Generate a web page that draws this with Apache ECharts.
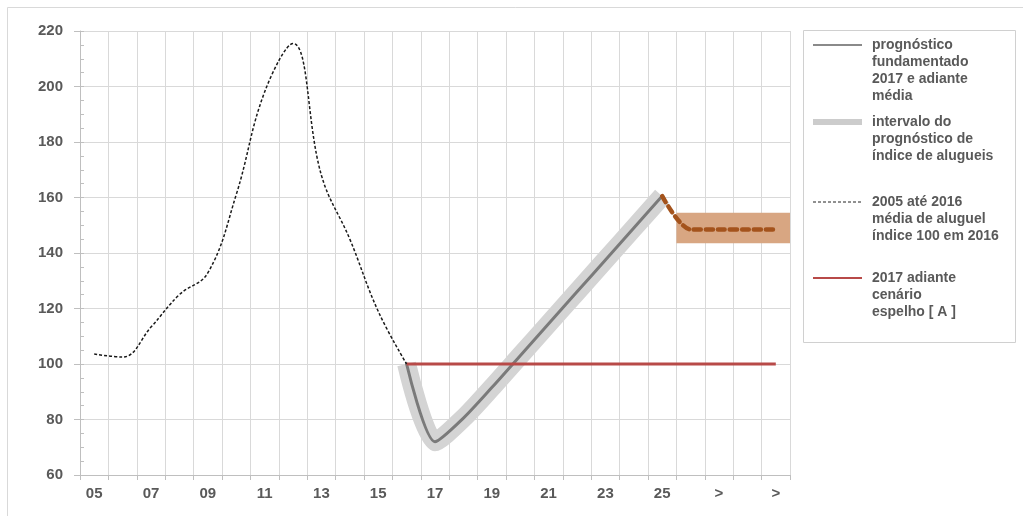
<!DOCTYPE html>
<html>
<head>
<meta charset="utf-8">
<script src="https://cdn.jsdelivr.net/npm/echarts@6/dist/echarts.min.js"></script>
<style>
  html, body { margin: 0; padding: 0; background: #ffffff; }
  #chart { width: 1023px; height: 516px; }
</style>
</head>
<body>
<div id="chart"></div>
<script>
// Years on the horizontal axis and the labels printed under them
const years = ['2005','2006','2007','2008','2009','2010','2011','2012','2013','2014','2015','2016','2017',
               '2018','2019','2020','2021','2022','2023','2024','2025','2026','2027','2028','2029'];
const xTickLabels = ['05','06','07','08','09','10','11','12','13','14','15','16','17',
                     '18','19','20','21','22','23','24','25','>','>','>','>'];
const yTicks = { min: 60, max: 220, step: 20, minorStep: 5 };

// 2005 até 2016 — média de aluguel, índice 100 em 2016
const historyStart = '2005';
const historyValues = [103.6, 102.5, 113.3, 125, 132.8, 161, 198, 215.5, 168, 145, 119, 100];

// prognóstico fundamentado 2017 e adiante (média) — 2016 a 2025
const forecastStart = '2016';
const forecastValues = [100, 72, 80.5, 91.5, 103, 114.5, 126, 137.5, 149, 160.5];

// continuação após 2025 — 2025 a 2029
const outlookStart = '2025';
const outlookValues = [160.5, 148.5, 148.5, 148.5, 148.5];
const outlookRangeYears = ['2026', '2029'];
const outlookRangeValues = [143.5, 154.5];

// 2017 adiante cenário espelho [A] — 2016 a 2029
const mirrorStart = '2016';
const mirrorValues = [100, 100, 100, 100, 100, 100, 100, 100, 100, 100, 100, 100, 100, 100];

// place a run of values on the full year axis
function onYears(start, values) {
  const out = years.map(() => null);
  const s = years.indexOf(start);
  values.forEach((v, i) => { out[s + i] = v; });
  return out;
}

const textColor = '#595959';
const gridColor = '#d9d9d9';
const axisColor = '#bfbfbf';
const font = 'Liberation Sans, Arial, sans-serif';

const chart = echarts.init(document.getElementById('chart'), null, { renderer: 'canvas' });

const legendLeft = 813, legendText = 872, lh = 17;
const legendItems = [
  { y: 45,  text: 'prognóstico\nfundamentado\n2017 e adiante\nmédia', line: { stroke: '#8a8a8a', lineWidth: 2 } },
  { y: 122, text: 'intervalo do\nprognóstico de\níndice de alugueis', line: { stroke: '#cccccc', lineWidth: 6 } },
  { y: 202, text: '2005 até 2016\nmédia de aluguel\níndice 100 em 2016', line: { stroke: '#222222', lineWidth: 1, lineDash: [3, 2] } },
  { y: 278, text: '2017 adiante\ncenário\nespelho [ A ]', line: { stroke: '#b84a48', lineWidth: 2 } }
];
const legendGraphics = [
  { type: 'rect', shape: { x: 803.5, y: 30.5, width: 212, height: 312 },
    style: { fill: '#ffffff', stroke: '#d0d0d0', lineWidth: 1 }, z: 10 }
];
legendItems.forEach(it => {
  legendGraphics.push({ type: 'line', shape: { x1: legendLeft, y1: it.y, x2: legendLeft + 49, y2: it.y },
    style: Object.assign({ fill: null }, it.line), z: 11 });
  legendGraphics.push({ type: 'text', x: legendText, y: it.y - lh / 2, z: 11,
    style: { text: it.text, fill: textColor, fontFamily: font, fontSize: 14, fontWeight: 'bold',
             lineHeight: lh, verticalAlign: 'top', align: 'left' } });
});

const option = {
  animation: false,
  backgroundColor: '#ffffff',
  graphic: [
    { type: 'polyline', shape: { points: [[7.5, 520], [7.5, 7.5], [1030, 7.5]] },
      style: { stroke: '#d9d9d9', lineWidth: 1, fill: null }, z: 0 }
  ].concat(legendGraphics),
  grid: { left: 80, top: 31, right: 233, bottom: 41, containLabel: false },
  xAxis: [
    {
      type: 'category', data: years, boundaryGap: true,
      axisLine: { show: true, lineStyle: { color: axisColor, width: 1 } },
      axisTick: { show: true, interval: 0, length: 5, lineStyle: { color: axisColor } },
      splitLine: { show: true, interval: 0, lineStyle: { color: gridColor, width: 1 } },
      axisLabel: {
        interval: 1, margin: 11, color: textColor, fontFamily: font, fontSize: 15, fontWeight: 'bold',
        formatter: (v, i) => xTickLabels[i]
      }
    },
    { type: 'value', min: 0, max: years.length, show: false }
  ],
  yAxis: [
    {
      type: 'value', min: yTicks.min, max: yTicks.max, interval: yTicks.step,
      axisLine: { show: true, lineStyle: { color: axisColor, width: 1 } },
      axisTick: { show: true, length: 6, lineStyle: { color: axisColor } },
      splitLine: { show: true, lineStyle: { color: gridColor, width: 1 } },
      axisLabel: { margin: 17, color: textColor, fontFamily: font, fontSize: 15, fontWeight: 'bold' }
    },
    {
      type: 'value', position: 'left', min: yTicks.min, max: yTicks.max, interval: yTicks.minorStep,
      axisLine: { show: false },
      axisTick: { show: true, inside: true, length: 4, lineStyle: { color: axisColor } },
      splitLine: { show: false },
      axisLabel: { show: false }
    }
  ],
  series: [
    {
      name: 'intervalo do prognóstico de índice de alugueis', type: 'line',
      data: onYears(forecastStart, forecastValues), smooth: 0.25, showSymbol: false, connectNulls: false,
      lineStyle: { color: '#d4d4d4', width: 19, cap: 'butt', join: 'round' }, z: 1, silent: true
    },
    {
      name: 'faixa', type: 'line', xAxisIndex: 1, yAxisIndex: 0, data: [], silent: true,
      markArea: {
        silent: true,
        itemStyle: { color: '#d8a682', opacity: 1 },
        data: [[
          { coord: [years.indexOf(outlookRangeYears[0]), outlookRangeValues[0]] },
          { coord: [years.indexOf(outlookRangeYears[1]) + 1, outlookRangeValues[1]] }
        ]]
      }, z: 1
    },
    {
      name: 'prognóstico fundamentado 2017 e adiante média', type: 'line',
      data: onYears(forecastStart, forecastValues), smooth: 0.25, showSymbol: false,
      lineStyle: { color: '#7a7a7a', width: 3, cap: 'round' }, z: 3
    },
    {
      name: '2017 adiante cenário espelho [ A ]', type: 'line',
      data: onYears(mirrorStart, mirrorValues), showSymbol: false,
      lineStyle: { color: '#b84a48', width: 3 }, z: 4
    },
    {
      name: '2005 até 2016 média de aluguel índice 100 em 2016', type: 'line',
      data: onYears(historyStart, historyValues), smooth: 0.4, showSymbol: false,
      lineStyle: { color: '#1a1a1a', width: 1.5, type: [3, 2] }, z: 4
    },
    {
      name: 'continuação', type: 'line',
      data: onYears(outlookStart, outlookValues), smooth: 0.3, showSymbol: false,
      lineStyle: { color: '#a4531c', width: 4.5, type: [7, 5], cap: 'round' }, z: 5
    }
  ]
};
chart.setOption(option);
</script>
</body>
</html>
